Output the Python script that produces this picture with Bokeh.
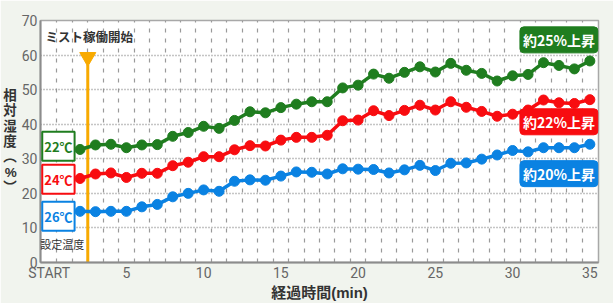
from bokeh.plotting import figure
from bokeh.models import Range1d, FixedTicker, Label
from bokeh.embed import file_html
from bokeh.resources import INLINE

# ---- data ----
minutes = list(range(2, 36))
rh_22 = [32.7, 34.0, 34.2, 33.2, 34.0, 34.1, 36.5, 37.6, 39.4, 38.8, 41.1, 43.6,
         43.3, 44.8, 45.8, 46.5, 46.5, 50.5, 51.3, 54.5, 53.3, 55.0, 56.6, 55.1,
         57.6, 55.6, 54.7, 52.5, 54.0, 54.4, 57.8, 57.0, 56.0, 58.3]
rh_24 = [24.3, 25.6, 25.9, 24.6, 25.8, 25.8, 28.0, 29.0, 30.6, 30.6, 32.6, 33.8,
         33.7, 35.4, 36.2, 36.2, 36.8, 41.0, 41.2, 43.9, 42.5, 44.0, 45.5, 44.1,
         46.5, 44.9, 43.7, 42.3, 42.9, 44.1, 47.0, 46.2, 46.0, 47.1]
rh_26 = [14.8, 14.7, 14.8, 14.8, 16.1, 16.8, 19.0, 20.0, 21.0, 20.6, 23.5, 23.9,
         23.8, 25.0, 26.2, 26.1, 25.6, 27.1, 27.0, 26.9, 25.9, 26.8, 28.1, 26.6,
         28.7, 28.8, 29.9, 31.1, 32.4, 32.0, 33.2, 33.2, 33.2, 34.2]
set_temps = ["22℃", "24℃", "26℃"]
rise_labels = ["約25%上昇", "約22%上昇", "約20%上昇"]
x_ticks = [0, 5, 10, 15, 20, 25, 30, 35]
y_ticks = [0, 10, 20, 30, 40, 50, 60, 70]
mist_start = 2.5
mist_label = "ミスト稼働開始"
y_title = "相\n対\n湿\n度\n︵\n%\n︶"
x_title = "経過時間(min)"

GREEN = "#1f7d1f"
RED = "#f80c10"
BLUE = "#0a82e2"
ORANGE = "#f8aa00"
CJK = "Noto Sans CJK JP"
NUM = "'Liberation Sans Narrow', 'Roboto', sans-serif"
TITLE_FONT = "'Liberation Sans', 'Noto Sans CJK JP'"

p = figure(width=613, height=303, output_backend="svg", toolbar_location=None,
           x_range=Range1d(-0.56, 35.56), y_range=Range1d(0, 70),
           min_border_left=38, min_border_right=15, min_border_top=20,
           min_border_bottom=38)
p.border_fill_color = "#f1f4ee"
p.background_fill_color = "white"
p.outline_line_color = "#a8a8a8"
p.outline_line_width = 1.5

# grid
p.xgrid.ticker = FixedTicker(ticks=[i + 0.5 for i in range(0, 35)])
p.xgrid.grid_line_color = "#9a9a9a"
p.xgrid.grid_line_dash = "4 6"
p.xgrid.grid_line_width = 1.2
p.ygrid.ticker = FixedTicker(ticks=y_ticks[1:-1])
p.ygrid.grid_line_color = "#8a8a8a"
p.ygrid.grid_line_dash = "1 2"
p.ygrid.grid_line_width = 1.3

# axes
p.xaxis.ticker = FixedTicker(ticks=x_ticks)
p.xaxis.major_label_overrides = {0: "START"}
p.yaxis.ticker = FixedTicker(ticks=y_ticks)
for ax in (p.xaxis, p.yaxis):
    ax.major_tick_line_color = None
    ax.minor_tick_line_color = None
    ax.major_tick_out = 0
    ax.minor_tick_out = 0
    ax.major_tick_in = 0
    ax.minor_tick_in = 0
    ax.axis_line_color = "#8c8c8c"
    ax.axis_line_width = 2
    ax.major_label_text_color = "#666666"
    ax.major_label_text_font = NUM
    ax.major_label_text_font_size = "14px"
    ax.axis_label_text_font = TITLE_FONT
    ax.axis_label_text_font_style = "bold"
    ax.axis_label_text_color = "#333333"
p.xaxis.major_label_standoff = 2
p.yaxis.major_label_standoff = 3
p.xaxis.axis_label = x_title
p.xaxis.axis_label_text_font_size = "15px"
p.xaxis.axis_label_standoff = 0
p.yaxis.axis_label = y_title
p.yaxis.axis_label_orientation = "horizontal"
p.yaxis.axis_label_text_font_size = "13.5px"
p.yaxis.axis_label_text_line_height = 1.03
p.yaxis.axis_label_text_align = "center"
p.yaxis.axis_label_standoff = 2

# mist start marker
p.segment(x0=[mist_start], y0=[0], x1=[mist_start], y1=[57.1], line_color=ORANGE, line_width=3)
p.scatter(x=[mist_start], y=[59.4], marker="inverted_triangle", size=16,
          fill_color=ORANGE, line_color=ORANGE)

# series
for vals, col in ((rh_22, GREEN), (rh_24, RED), (rh_26, BLUE)):
    p.line(minutes, vals, line_color=col, line_width=3.5)
    p.scatter(minutes, vals, marker="circle", size=10, fill_color=col, line_color=col)

# texts
p.add_layout(Label(x=2.6, y=65.4, text=mist_label, text_align="center", text_baseline="middle",
                   text_font=CJK, text_font_style="bold", text_font_size="12.5px",
                   text_color="#333333"))

for txt, yy, col in zip(set_temps, (33.6, 24.1, 13.4), (GREEN, RED, BLUE)):
    p.add_layout(Label(x=0.6, y=yy, text=txt, text_align="center", text_baseline="middle",
                       text_font=CJK, text_font_style="bold", text_font_size="13px",
                       text_color=col, background_fill_color="white",
                       border_line_color=col, border_line_width=2,
                       padding=dict(left=2, right=2, top=5, bottom=5)))

p.add_layout(Label(x=0.85, y=5.3, text="設定温度", text_align="center", text_baseline="middle",
                   text_font=CJK, text_font_size="11px", text_color="#333333"))

for txt, yy, col in zip(rise_labels, (64.4, 40.7, 25.7), (GREEN, RED, BLUE)):
    p.add_layout(Label(x=33.0, y=yy, text=txt, text_align="center", text_baseline="middle",
                       text_font=CJK, text_font_style="bold", text_font_size="14px",
                       text_color="white", background_fill_color=col,
                       border_line_color=col, border_radius=4,
                       padding=dict(left=3, right=3, top=3, bottom=3)))

open("out.html", "w").write(file_html(p, INLINE))
